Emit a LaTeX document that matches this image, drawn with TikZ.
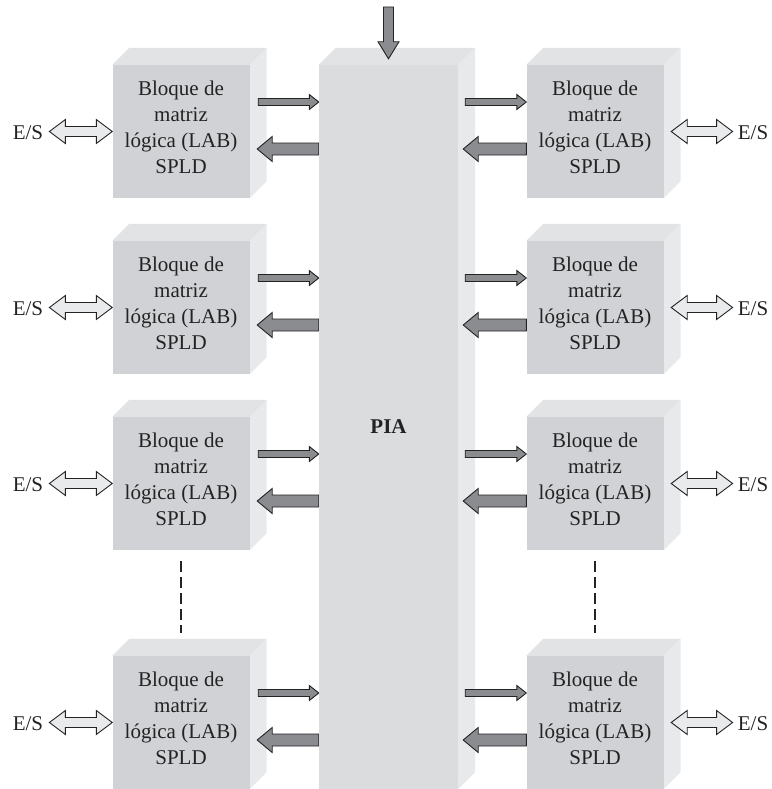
\documentclass[tikz,border=0pt]{standalone}
\usepackage{fontspec}
\setmainfont{Liberation Serif}
\usetikzlibrary{calc}
\pgfdeclarelayer{background}
\pgfdeclarelayer{arrowlayer}
\pgfsetlayers{background,arrowlayer,main}
\definecolor{boxfront}{RGB}{209,210,213}
\definecolor{piafront}{RGB}{219,220,222}
\definecolor{topface}{RGB}{226,227,229}
\definecolor{sideface}{RGB}{232,233,235}
\definecolor{arrowdark}{RGB}{138,140,144}
\definecolor{arrowlight}{RGB}{233,234,236}
\definecolor{inkc}{RGB}{35,35,35}
\tikzset{
  blockarrow/.style n args={3}{to path={
    let \p1=(\tikztostart), \p2=(\tikztotarget), \p3=($(\p2)!#3!(\p1)$) in
    ($(\p1)!#1!90:(\p2)$) -- ($(\p3)!#1!90:(\p2)$) -- ($(\p3)!#2!90:(\p2)$) -- (\p2)
    -- ($(\p3)!#2!-90:(\p2)$) -- ($(\p3)!#1!-90:(\p2)$) -- ($(\p1)!#1!-90:(\p2)$) -- cycle}},
  dblarrow/.style n args={3}{to path={
    let \p1=(\tikztostart), \p2=(\tikztotarget), \p3=($(\p1)!#3!(\p2)$), \p4=($(\p2)!#3!(\p1)$) in
    (\p1) -- ($(\p3)!#2!90:(\p2)$) -- ($(\p3)!#1!90:(\p2)$) -- ($(\p4)!#1!90:(\p2)$)
    -- ($(\p4)!#2!90:(\p2)$) -- (\p2) -- ($(\p4)!#2!-90:(\p2)$) -- ($(\p4)!#1!-90:(\p2)$)
    -- ($(\p3)!#1!-90:(\p2)$) -- ($(\p3)!#2!-90:(\p2)$) -- cycle}},
  darkarrow/.style={fill=arrowdark, draw=inkc, line width=0.9pt, line join=miter},
  lightarrow/.style={fill=arrowlight, draw=inkc, line width=0.9pt, line join=miter},
  lab/.style={rectangle, fill=boxfront, minimum width=137pt, minimum height=133pt, inner sep=0pt},
  labtext/.style={align=center, text=inkc, inner sep=0pt, font=\fontsize{21}{26}\selectfont},
  pia/.style={rectangle, fill=piafront, minimum width=139pt, minimum height=724pt, inner sep=0pt,
    text=inkc, font=\fontsize{21}{26}\selectfont\bfseries},
  iolabel/.style={text=inkc, font=\fontsize{21}{26}\selectfont, inner sep=0pt},
  dashline/.style={draw=inkc, line width=1.1pt, dash pattern=on 11pt off 5pt},
}
\newcommand{\boxfaces}[1]{%
  \fill[topface] (#1.north west) -- ++(17pt,17pt) -- ([shift={(17pt,17pt)}]#1.north east) -- (#1.north east) -- cycle;
  \fill[sideface] (#1.north east) -- ++(17pt,17pt) -- ([shift={(17pt,17pt)}]#1.south east) -- (#1.south east) -- cycle;}
\begin{document}
\begin{tikzpicture}[x=1pt,y=-1pt]
\useasboundingbox (0,0) rectangle (771,789);
% PIA
\node[pia] (PIA) at (388.5,427) {PIA};
% logic array blocks
\foreach \i/\yc in {1/131.5,2/307.5,3/483.5,4/722.5} {
  \node[lab] (L\i) at (181,\yc) {};
  \node[labtext] (LT\i) at ([yshift=4.5pt]L\i.center) {Bloque de\\matriz\\lógica (LAB)\\SPLD};
  \node[lab] (R\i) at (595,\yc) {};
  \node[labtext] (RT\i) at ([yshift=4.5pt]R\i.center) {Bloque de\\matriz\\lógica (LAB)\\SPLD};
  \node[iolabel] (EL\i) at (28,\yc+1) {E/S};
  \node[iolabel] (ER\i) at (753,\yc+1) {E/S};
}
\coordinate (in) at (388.5,7);
\begin{pgfonlayer}{background}
  \foreach \i in {1,2,3,4} {\boxfaces{L\i}\boxfaces{R\i}}
  \boxfaces{PIA}
\end{pgfonlayer}
\begin{pgfonlayer}{arrowlayer}
  \draw[darkarrow] (in) to[blockarrow={5pt}{10.5pt}{17pt}] ([yshift=6pt]PIA.north);
  \foreach \i in {1,2,3,4} {
    % left side
    \coordinate (lt\i) at ($(L\i.east)+(8.5,-29.5)$);
    \draw[darkarrow] (lt\i) to[blockarrow={3.5pt}{7.5pt}{9.5pt}] (PIA.west |- lt\i);
    \coordinate (lk\i) at ($(L\i.east)+(7.5,17.5)$);
    \draw[darkarrow] (PIA.west |- lk\i) to[blockarrow={6pt}{12.5pt}{15pt}] (lk\i);
    % right side
    \coordinate (rt\i) at ($(PIA.east |- R\i.west)+(7,-29.5)$);
    \draw[darkarrow] (rt\i) to[blockarrow={3.5pt}{7.5pt}{9.5pt}] (R\i.west |- rt\i);
    \coordinate (rk\i) at ($(PIA.east |- R\i.west)+(5,17.5)$);
    \draw[darkarrow] (R\i.west |- rk\i) to[blockarrow={6pt}{12.5pt}{15pt}] (rk\i);
    % I/O arrows
    \draw[lightarrow] ([xshift=6pt]EL\i.east |- L\i.west) to[dblarrow={5pt}{12pt}{16pt}] (L\i.west);
    \draw[lightarrow] ([xshift=7.5pt]R\i.east) to[dblarrow={5pt}{12pt}{16pt}] ([xshift=-5pt]ER\i.west |- R\i.east);
  }
\end{pgfonlayer}
% continuation dashes
\draw[dashline] ([yshift=-11pt]L3.south) -- ([yshift=23pt]L4.north);
\draw[dashline] ([yshift=-11pt]R3.south) -- ([yshift=23pt]R4.north);
\end{tikzpicture}
\end{document}
